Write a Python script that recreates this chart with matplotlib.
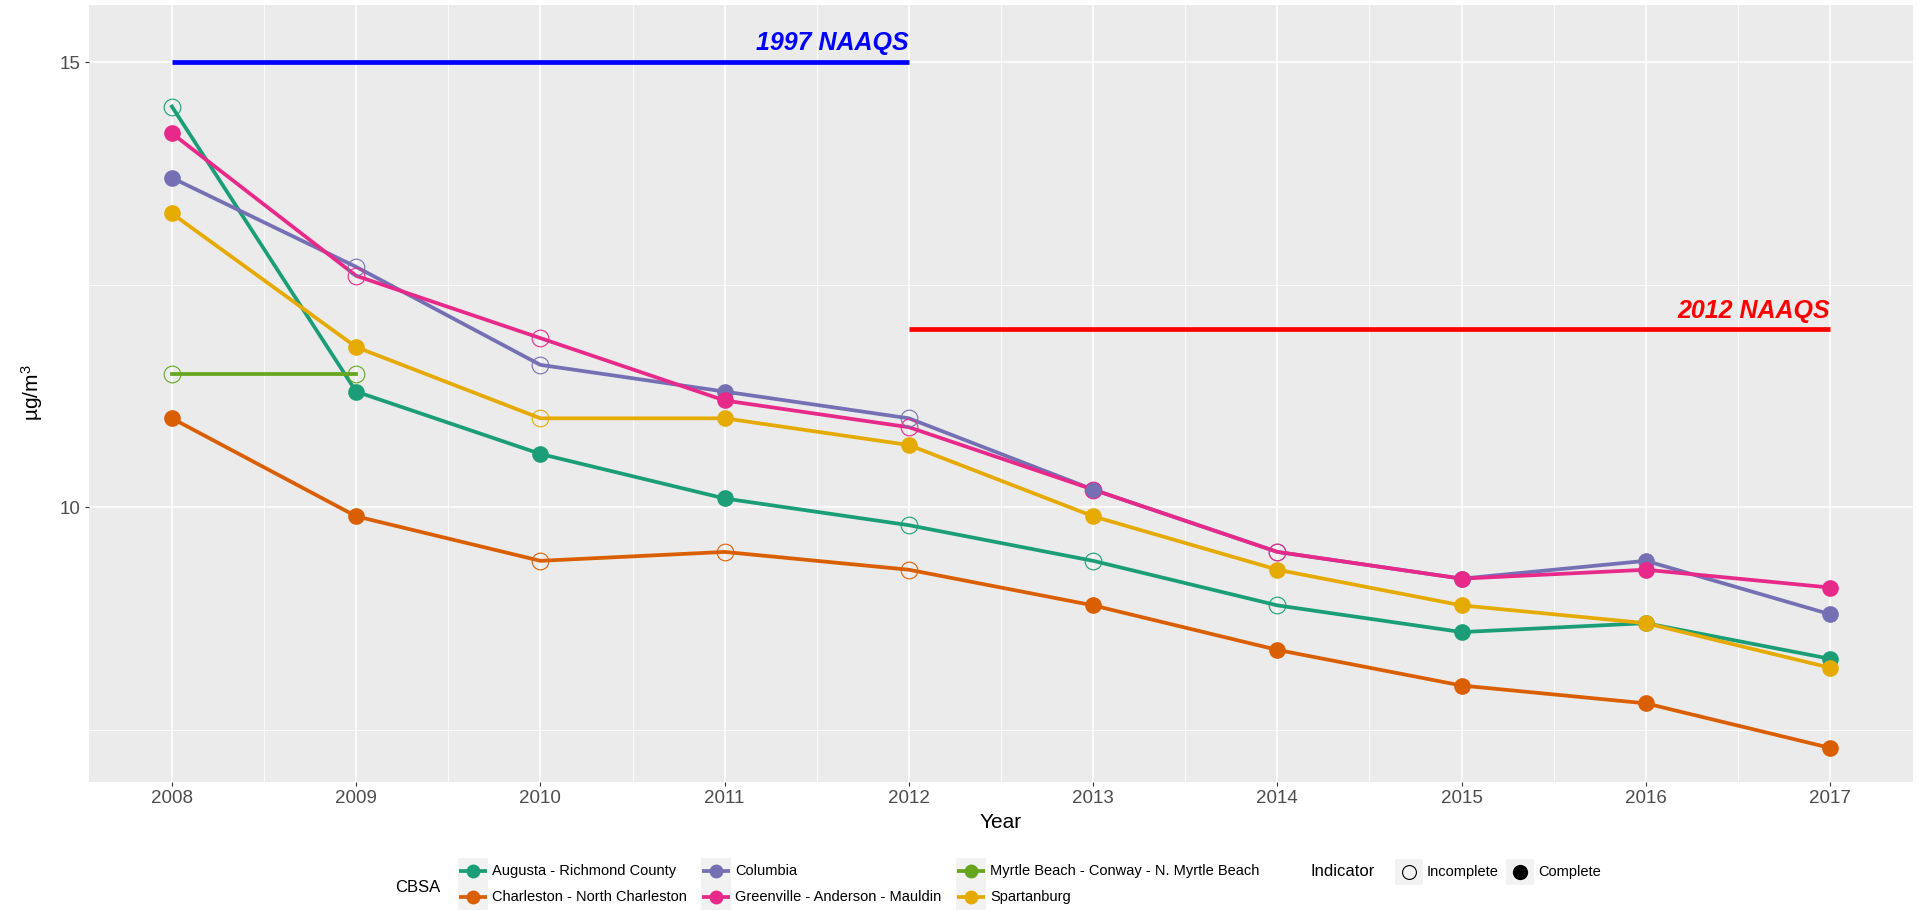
import matplotlib
matplotlib.use("Agg")
from matplotlib import pyplot as plt
from matplotlib.patches import Rectangle

plt.rcParams['font.family'] = ['Liberation Sans', 'DejaVu Sans']
plt.rcParams['mathtext.fontset'] = 'custom'
plt.rcParams['mathtext.rm'] = 'Liberation Sans'
plt.rcParams['mathtext.it'] = 'Liberation Sans:italic'

# ======================data======================
years = [2008, 2009, 2010, 2011, 2012, 2013, 2014, 2015, 2016, 2017]

cbsa_names = ['Augusta - Richmond County', 'Charleston - North Charleston', 'Columbia',
              'Greenville - Anderson - Mauldin', 'Myrtle Beach - Conway - N. Myrtle Beach',
              'Spartanburg']
cbsa_colors = ['#1B9E77', '#D95F02', '#7570B3', '#E7298A', '#66A61E', '#E6AB02']

augusta = [14.5, 11.3, 10.6, 10.1, 9.8, 9.4, 8.9, 8.6, 8.7, 8.3]
charleston = [11.0, 9.9, 9.4, 9.5, 9.3, 8.9, 8.4, 8.0, 7.8, 7.3]
columbia = [13.7, 12.7, 11.6, 11.3, 11.0, 10.2, 9.5, 9.2, 9.4, 8.8]
greenville = [14.2, 12.6, 11.9, 11.2, 10.9, 10.2, 9.5, 9.2, 9.3, 9.1]
myrtle = [11.5, 11.5]
spartanburg = [13.3, 11.8, 11.0, 11.0, 10.7, 9.9, 9.3, 8.9, 8.7, 8.2]

# 1 = Complete, 0 = Incomplete
augusta_complete = [0, 1, 1, 1, 0, 0, 0, 1, 1, 1]
charleston_complete = [1, 1, 0, 0, 0, 1, 1, 1, 1, 1]
columbia_complete = [1, 0, 0, 1, 0, 1, 0, 1, 1, 1]
greenville_complete = [1, 0, 0, 1, 0, 0, 0, 1, 1, 1]
myrtle_complete = [0, 0]
spartanburg_complete = [1, 1, 0, 1, 1, 1, 1, 1, 1, 1]

series = [augusta, charleston, columbia, greenville, myrtle, spartanburg]
complete = [augusta_complete, charleston_complete, columbia_complete,
            greenville_complete, myrtle_complete, spartanburg_complete]

naaqs_1997_years = [2008, 2012]
naaqs_1997 = [15, 15]
naaqs_2012_years = [2012, 2017]
naaqs_2012 = [12, 12]

# ======================figure======================
W, H = 1917, 910
fig = plt.figure(figsize=(W / 100, H / 100), dpi=100)
ax = fig.add_axes([89 / W, 1 - 782 / H, (1913 - 89) / W, (782 - 5) / H])
ax.set_facecolor('#EBEBEB')
for s in ax.spines.values():
    s.set_visible(False)

ax.set_xlim(2007.55, 2017.45)
ax.set_ylim(6.917, 15.64)
ax.set_xticks(years)
ax.set_xticks([y + 0.5 for y in years[:-1]], minor=True)
ax.set_yticks([10, 15])
ax.set_yticks([7.5, 12.5], minor=True)
ax.grid(which='major', color='white', lw=1.1)
ax.grid(which='minor', color='white', lw=0.55)
ax.set_axisbelow(True)
ax.tick_params(which='major', length=3, width=0.8, color='#333333',
               labelsize=13.5, labelcolor='#4D4D4D', pad=3)
ax.tick_params(which='minor', length=0)

# NAAQS lines
ax.plot(naaqs_1997_years, naaqs_1997, color='#0000FF', lw=3.4, solid_capstyle='butt', zorder=2)
ax.plot(naaqs_2012_years, naaqs_2012, color='#FF0000', lw=3.4, solid_capstyle='butt', zorder=2)
ax.text(2012, 15.13, '1997 NAAQS', color='#0000FF', fontsize=18, fontweight='bold',
        fontstyle='italic', ha='right', va='baseline')
ax.text(2017, 12.13, '2012 NAAQS', color='#FF0000', fontsize=18, fontweight='bold',
        fontstyle='italic', ha='right', va='baseline')

# lines
for vals, c in zip(series, cbsa_colors):
    ax.plot(years[:len(vals)], vals, color=c, lw=2.7, zorder=3)

# points
for vals, comp, c in zip(series, complete, cbsa_colors):
    xs = years[:len(vals)]
    for x, v, k in zip(xs, vals, comp):
        if k:
            ax.plot(x, v, 'o', color=c, ms=12, mec=c, mew=0, zorder=4)
        else:
            ax.plot(x, v, 'o', mfc='none', mec=c, ms=12, mew=0.8, zorder=4)

# ======================labels & legend======================
ov = fig.add_axes([0, 0, 1, 1])
ov.set_xlim(0, W)
ov.set_ylim(H, 0)
ov.axis('off')

ov.text(1001, 823, 'Year', fontsize=15, ha='center', va='center')
ov.text(32, 393, 'µg/m$^3$', fontsize=15, rotation=90, ha='center', va='center')

ov.text(395, 887, 'CBSA', fontsize=12, ha='left', va='center')
key_x = [458, 458, 701, 701, 956, 956]
key_y = [871, 897, 871, 897, 871, 897]
for name, c, kx, ky in zip(cbsa_names, cbsa_colors, key_x, key_y):
    ov.add_patch(Rectangle((kx, ky - 13), 30, 26, fc='#F2F2F2', ec='none'))
    ov.plot([kx + 1, kx + 29], [ky, ky], color=c, lw=2.7, solid_capstyle='butt')
    ov.plot(kx + 15, ky, 'o', color=c, ms=10, mew=0)
    ov.text(kx + 34, ky, name, fontsize=10.5, ha='left', va='center')

ov.text(1311, 872, 'Indicator', fontsize=12, ha='left', va='center')
ov.add_patch(Rectangle((1395, 859), 28, 26, fc='#F2F2F2', ec='none'))
ov.plot(1409, 872, 'o', mfc='none', mec='black', ms=10, mew=0.8)
ov.text(1427, 872, 'Incomplete', fontsize=10.5, ha='left', va='center')
ov.add_patch(Rectangle((1506, 859), 28, 26, fc='#F2F2F2', ec='none'))
ov.plot(1520, 872, 'o', color='black', ms=11, mew=0)
ov.text(1538, 872, 'Complete', fontsize=10.5, ha='left', va='center')

fig.savefig('out.png', dpi=100)
